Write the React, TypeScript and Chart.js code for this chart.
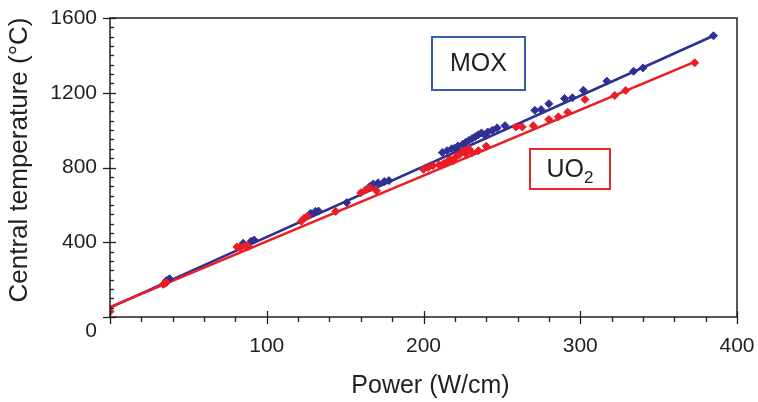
import React, { useEffect, useRef } from "react";
import { Chart, registerables } from "chart.js";

Chart.register(...registerables);

// ---- Data ----
const moxPower = [36, 38, 85, 90, 92, 128, 131, 133, 151, 166, 168, 171, 175, 178, 212, 215, 218, 220, 222, 225, 227, 229, 231, 233, 235, 237, 239, 241, 244, 247, 252, 271, 275, 280, 290, 295, 302, 317, 334, 340, 385];
const moxTemp = [195, 205, 395, 405, 412, 555, 565, 567, 612, 700, 712, 718, 725, 730, 880, 890, 900, 905, 915, 925, 935, 945, 955, 965, 975, 985, 975, 990, 1000, 1012, 1024, 1106, 1110, 1141, 1169, 1173, 1213, 1262, 1315, 1333, 1505];

const uo2Power = [0, 34, 35, 36, 81, 83, 86, 88, 122, 124, 126, 144, 160, 163, 166, 170, 200, 203, 206, 210, 213, 215, 217, 219, 221, 223, 224, 226, 227, 229, 231, 235, 240, 259, 263, 270, 280, 286, 292, 303, 322, 329, 373];
const uo2Temp = [30, 175, 180, 185, 375, 370, 382, 378, 512, 530, 540, 565, 665, 680, 690, 675, 790, 800, 810, 815, 822, 830, 845, 835, 860, 870, 880, 890, 875, 900, 880, 890, 914, 1017, 1017, 1024, 1057, 1071, 1096, 1164, 1185, 1212, 1360];

const moxFitPower = [0, 385];
const moxFitTemp = [50, 1505];
const uo2FitPower = [0, 373];
const uo2FitTemp = [53, 1365];

const xTickValues = [0, 100, 200, 300, 400];
const yTickValues = [0, 400, 800, 1200, 1600];
const xMinorStep = 20;
const yMinorStep = 50;

const xTitle = "Power (W/cm)";
const yTitle = "Central temperature (\u00B0C)";
const moxLabel = "MOX";
const uo2Label = "UO";
const uo2Sub = "2";

const BLUE = "#2e3192";
const RED = "#ed1c24";
const BLUE_BOX = "#3a5ba8";
const RED_BOX = "#e8262d";
const INK = "#231f20";
const FONT = "'Liberation Sans', Arial, Helvetica, sans-serif";

const zip = (xs: number[], ys: number[]) => xs.map((x, i) => ({ x, y: ys[i] }));

const decorPlugin = {
  id: "decor",
  afterDraw(chart: any) {
    const { ctx, chartArea, scales } = chart;
    const xs = scales.x;
    const ys = scales.y;
    const { left, right, top, bottom } = chartArea;
    ctx.save();
    ctx.strokeStyle = INK;
    ctx.lineWidth = 1.5;
    ctx.strokeRect(left, top, right - left, bottom - top);

    ctx.lineWidth = 1.3;
    // x ticks
    for (let v = xs.min; v <= xs.max + 1e-9; v += xMinorStep) {
      const px = Math.round(xs.getPixelForValue(v)) + 0.5;
      const major = xTickValues.includes(v);
      ctx.beginPath();
      if (major) {
        ctx.moveTo(px, bottom - 6);
        ctx.lineTo(px, bottom + 7);
      } else {
        ctx.moveTo(px, bottom);
        ctx.lineTo(px, bottom + 5);
      }
      ctx.stroke();
    }
    // y ticks
    for (let v = ys.min; v <= ys.max + 1e-9; v += yMinorStep) {
      const py = Math.round(ys.getPixelForValue(v)) + 0.5;
      const major = yTickValues.includes(v);
      ctx.beginPath();
      if (major) {
        ctx.moveTo(left - 7, py);
        ctx.lineTo(left + 6, py);
      } else {
        ctx.moveTo(left, py);
        ctx.lineTo(left + 4, py);
      }
      ctx.stroke();
    }

    // origin label
    ctx.fillStyle = INK;
    ctx.font = `21px ${FONT}`;
    ctx.textAlign = "center";
    ctx.textBaseline = "middle";
    ctx.fillText("0", left - 19, bottom + 14);

    // axis titles
    ctx.font = `25px ${FONT}`;
    ctx.fillText(xTitle, (left + right) / 2 + 7, 386);
    ctx.save();
    ctx.translate(20, 160);
    ctx.rotate(-Math.PI / 2);
    ctx.font = `26px ${FONT}`;
    ctx.fillText(yTitle, 0, 0);
    ctx.restore();

    // legend boxes
    ctx.lineWidth = 2;
    ctx.strokeStyle = BLUE_BOX;
    ctx.strokeRect(432, 37, 93, 53);
    ctx.font = `25px ${FONT}`;
    ctx.fillStyle = INK;
    ctx.fillText(moxLabel, 478.5, 64);

    ctx.strokeStyle = RED_BOX;
    ctx.strokeRect(530, 149, 80, 40);
    ctx.textAlign = "left";
    ctx.font = `25px ${FONT}`;
    const w = ctx.measureText(uo2Label).width;
    ctx.font = `17px ${FONT}`;
    const ws = ctx.measureText(uo2Sub).width;
    const startX = 570 - (w + ws) / 2;
    ctx.font = `25px ${FONT}`;
    ctx.fillText(uo2Label, startX, 170);
    ctx.font = `17px ${FONT}`;
    ctx.fillText(uo2Sub, startX + w, 178);
    ctx.restore();
  },
};

export default function App() {
  const ref = useRef<HTMLCanvasElement>(null);
  useEffect(() => {
    document.body.style.margin = "0";
    const canvas = ref.current!;
    const chart = new Chart(canvas, {
      type: "scatter",
      data: {
        datasets: [
          {
            label: "UO2",
            data: zip(uo2Power, uo2Temp),
            backgroundColor: RED,
            borderColor: RED,
            pointStyle: "rectRot",
            pointRadius: 4,
            borderWidth: 1,
            order: 0,
          },
          {
            label: "MOX",
            data: zip(moxPower, moxTemp),
            backgroundColor: BLUE,
            borderColor: BLUE,
            pointStyle: "rectRot",
            pointRadius: 4,
            borderWidth: 1,
            order: 1,
          },
          {
            label: "UO2 fit",
            data: zip(uo2FitPower, uo2FitTemp),
            showLine: true,
            borderColor: RED,
            borderWidth: 2.6,
            pointRadius: 0,
            order: 2,
          },
          {
            label: "MOX fit",
            data: zip(moxFitPower, moxFitTemp),
            showLine: true,
            borderColor: BLUE,
            borderWidth: 2.6,
            pointRadius: 0,
            order: 3,
          },
        ],
      },
      options: {
        responsive: false,
        animation: false,
        events: [],
        layout: { padding: { top: 18, right: 21, left: 0, bottom: 0 } },
        plugins: { legend: { display: false }, tooltip: { enabled: false } },
        scales: {
          x: {
            type: "linear",
            min: 0,
            max: 400,
            afterFit: (s: any) => {
              s.height = 85;
              s.paddingLeft = 0;
              s.paddingRight = 0;
              s.paddingTop = 0;
              s.paddingBottom = 0;
            },
            afterBuildTicks: (s: any) => { s.ticks = xTickValues.map((v) => ({ value: v })); },
            grid: { display: false, drawTicks: false },
            border: { display: false },
            ticks: {
              padding: 17,
              color: INK,
              font: { family: FONT, size: 21 },
              callback: (v: any) => (v === 0 ? "" : String(v)),
            },
          },
          y: {
            type: "linear",
            min: 0,
            max: 1600,
            afterFit: (s: any) => {
              s.width = 110;
              s.paddingLeft = 0;
              s.paddingRight = 0;
              s.paddingTop = 0;
              s.paddingBottom = 0;
            },
            afterBuildTicks: (s: any) => { s.ticks = yTickValues.map((v) => ({ value: v })); },
            grid: { display: false, drawTicks: false },
            border: { display: false },
            ticks: {
              padding: 13,
              color: INK,
              font: { family: FONT, size: 21 },
              callback: (v: any) => (v === 0 ? "" : String(v)),
            },
          },
        },
      },
      plugins: [decorPlugin],
    });
    return () => chart.destroy();
  }, []);
  return (
    <div style={{ position: "absolute", left: 0, top: 0, width: 758, height: 402, background: "#fff" }}>
      <canvas ref={ref} width={758} height={402} />
    </div>
  );
}
